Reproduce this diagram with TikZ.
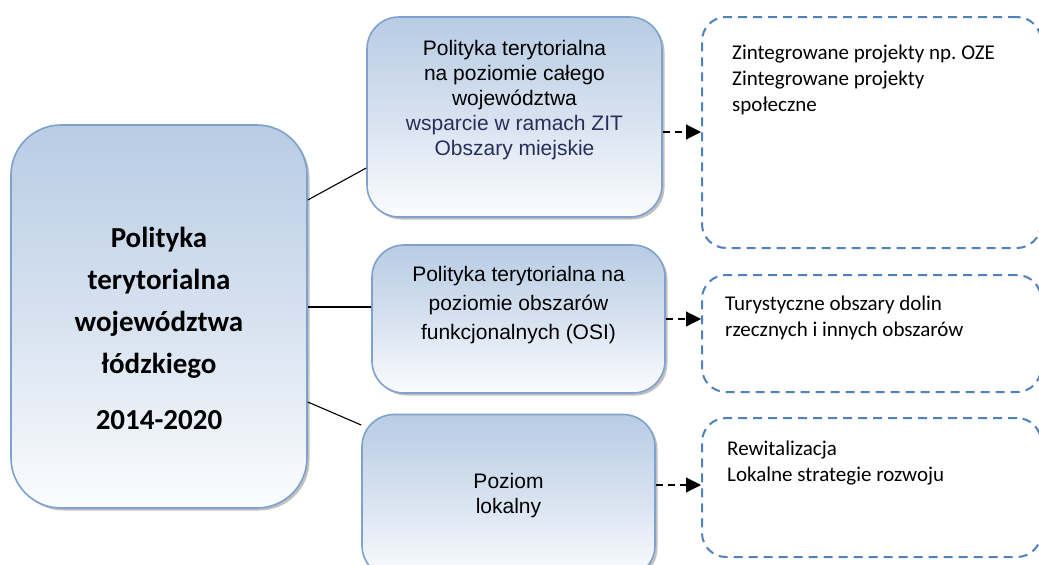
\documentclass[tikz,border=0pt]{standalone}
\usepackage{fontspec}
\setmainfont{Carlito}
\newfontfamily\arialf{Liberation Sans}
\usetikzlibrary{arrows.meta,shadows}
\definecolor{boxtop}{HTML}{B8CCE4}
\definecolor{boxbot}{HTML}{FBFCFE}
\definecolor{boxline}{HTML}{7EA1CE}
\definecolor{dashline}{HTML}{4F81BD}
\definecolor{navy}{HTML}{262E5A}
\tikzset{
  gradbox/.style={draw=boxline, line width=1.6pt, top color=boxtop, bottom color=boxbot,
    middle color=boxtop!55!boxbot, inner sep=0pt,
    drop shadow={shadow xshift=2.5pt, shadow yshift=-2.5pt, fill=gray!70, opacity=0.7}},
  dashbox/.style={draw=dashline, line width=2pt, dash pattern=on 9pt off 6pt, inner sep=0pt, rounded corners=24pt},
  link/.style={line width=1.1pt, black},
  arr/.style={line width=1.1pt, black, dash pattern=on 7pt off 5pt, -{Triangle[length=15pt,width=15pt]}},
  maintext/.style={align=center, font=\fontsize{29}{42}\selectfont\bfseries},
  midtext/.style={align=center, font=\arialf\fontsize{21}{25}\selectfont},
  righttext/.style={align=left, anchor=north west, font=\fontsize{21}{26}\selectfont, inner sep=0pt}
}
\begin{document}
\frenchspacing
\begin{tikzpicture}[x=1pt,y=-1pt]
\useasboundingbox (0,0) rectangle (1039,565);
% main box
\node[gradbox, rounded corners=50pt, minimum width=296pt, minimum height=383pt] (main) at (159,316.5) {};
\node[maintext] (maintxt) at (159,328) {Polityka\\terytorialna\\województwa\\łódzkiego\\[14pt]2014-2020};
% middle boxes
\node[gradbox, rounded corners=32pt, minimum width=295pt, minimum height=200pt] (box1) at (514.5,117) {};
\node[midtext] (box1txt) at (514.5,100) {Polityka terytorialna\\na poziomie całego\\województwa\\\textcolor{navy}{wsparcie w ramach ZIT}\\\textcolor{navy}{Obszary miejskie}};
\node[gradbox, rounded corners=32pt, minimum width=293pt, minimum height=148pt] (box2) at (518.5,319) {};
\node[midtext, font=\arialf\fontsize{21}{29}\selectfont] (box2txt) at (518.5,305) {Polityka terytorialna na\\poziomie obszarów\\funkcjonalnych (OSI)};
\node[gradbox, rounded corners=32pt, minimum width=293pt, minimum height=163pt] (box3) at (508.5,496) {};
\node[midtext] (box3txt) at (508.5,496) {Poziom\\lokalny};
% right dashed boxes
\node[dashbox, minimum width=339pt, minimum height=231pt] (boxA) at (871.5,132.5) {};
\node[righttext] (boxAtxt) at (732,45) {Zintegrowane projekty np. OZE\\Zintegrowane projekty\\społeczne};
\node[dashbox, minimum width=339pt, minimum height=117pt] (boxB) at (871.5,333.5) {};
\node[righttext] (boxBtxt) at (725,296) {Turystyczne obszary dolin\\rzecznych i innych obszarów};
\node[dashbox, minimum width=339pt, minimum height=139pt] (boxC) at (871.5,487.5) {};
\node[righttext] (boxCtxt) at (727,441) {Rewitalizacja\\Lokalne strategie rozwoju};
% links
\draw[link] ([yshift=116.5pt]main.east) -- ([yshift=-51pt]box1.west);
\draw[link] ([yshift=12pt]box2.west) coordinate (l2) -- (l2 -| main.east);
\draw[link] ([yshift=-85.5pt]main.east) -- ([yshift=71pt]box3.west);
% arrows
\draw[arr] ([yshift=-15pt]box1.east) coordinate (a1) -- (a1 -| boxA.west);
\draw[arr] (box2.east) -- (box2.east -| boxB.west);
\draw[arr] ([yshift=11pt]box3.east) coordinate (a3) -- (a3 -| boxC.west);
\end{tikzpicture}
\end{document}
